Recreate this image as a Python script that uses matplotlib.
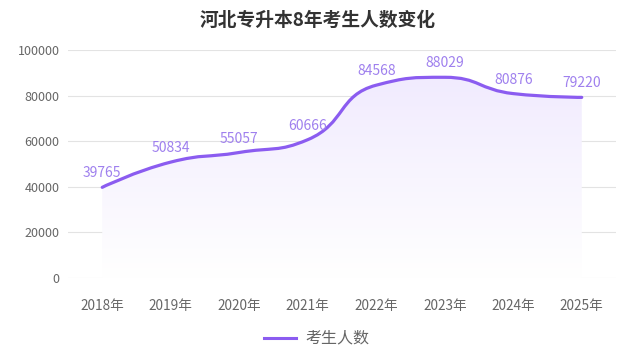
import numpy as np
import matplotlib
matplotlib.use("Agg")
import matplotlib.pyplot as plt
from matplotlib.path import Path
from matplotlib.patches import PathPatch
from matplotlib.lines import Line2D
from matplotlib.colors import LinearSegmentedColormap

plt.rcParams['font.family'] = ['Noto Sans CJK SC', 'DejaVu Sans']

title = "河北专升本8年考生人数变化"
years = ["2018年", "2019年", "2020年", "2021年", "2022年", "2023年", "2024年", "2025年"]
values = [39765, 50834, 55057, 60666, 84568, 88029, 80876, 79220]
series_name = "考生人数"
yticks = [0, 20000, 40000, 60000, 80000, 100000]

line_color = "#8b5cf0"
label_color = "#9f80ee"

fig = plt.figure(figsize=(6.35, 3.63), dpi=100)
ax = fig.add_axes([68 / 635, 1 - 278 / 363, (616 - 68) / 635, (278 - 50) / 363])
n = len(values)
ax.set_xlim(-0.5, n - 0.5)
ax.set_ylim(0, 100000)

# pixel-scale factors for the smoothing (ECharts-like smooth=0.5)
sx = (616 - 68) / n
sy = (278 - 50) / 100000.0
P = [(i * sx, v * sy) for i, v in enumerate(values)]
smooth = 0.5

verts = []
codes = []
cp0 = None
prev = None
for k, (x, y) in enumerate(P):
    if k == 0:
        verts.append((x, y)); codes.append(Path.MOVETO)
        cp0 = (x, y)
    else:
        px, py = prev
        if k == n - 1:
            cp1 = (x, y)
            ncp0 = None
        else:
            nx, ny = P[k + 1]
            vx, vy = nx - px, ny - py
            lp = np.hypot(x - px, y - py)
            ln = np.hypot(nx - x, ny - y)
            r = ln / (ln + lp)
            ncx = x + vx * smooth * r
            ncy = y + vy * smooth * r
            ncx = min(ncx, max(nx, x)); ncy = min(ncy, max(ny, y))
            ncx = max(ncx, min(nx, x)); ncy = max(ncy, min(ny, y))
            vx, vy = ncx - x, ncy - y
            c1x = x - vx * lp / ln
            c1y = y - vy * lp / ln
            c1x = min(c1x, max(px, x)); c1y = min(c1y, max(py, y))
            c1x = max(c1x, min(px, x)); c1y = max(c1y, min(py, y))
            vx, vy = x - c1x, y - c1y
            ncx = x + vx * ln / lp
            ncy = y + vy * ln / lp
            cp1 = (c1x, c1y)
            ncp0 = (ncx, ncy)
        verts += [cp0, cp1, (x, y)]
        codes += [Path.CURVE4] * 3
        cp0 = ncp0
    prev = (x, y)

verts = [(vx_ / sx, vy_ / sy) for vx_, vy_ in verts]
line_path = Path(verts, codes)

# area path
area_verts = verts + [(n - 1, 0), (0, 0), verts[0]]
area_codes = codes + [Path.LINETO, Path.LINETO, Path.CLOSEPOLY]
area_path = Path(area_verts, area_codes)

# gradient fill
top = max(values)
grad = np.linspace(0, 1, 256).reshape(-1, 1)
cmap = LinearSegmentedColormap.from_list("g", ["#ffffff", "#f1ebfe"])
im = ax.imshow(grad, extent=[0, n - 1, 0, top], origin='lower', cmap=cmap,
               aspect='auto', zorder=1, interpolation='bilinear')
patch = PathPatch(area_path, facecolor='none', edgecolor='none')
ax.add_patch(patch)
im.set_clip_path(patch)

ax.add_patch(PathPatch(line_path, facecolor='none', edgecolor=line_color,
                       lw=2.3, capstyle='round', joinstyle='round', zorder=3))

for i, v in enumerate(values):
    ax.annotate(f"{v}", (i, v), xytext=(0, 5), textcoords='offset points',
                ha='center', va='bottom', fontsize=10, color=label_color, zorder=4)

ax.set_yticks(yticks)
ax.set_yticklabels([str(t) for t in yticks], fontsize=9, color="#666666")
ax.set_xticks(range(n))
ax.set_xticklabels(years, fontsize=9.8, color="#666666")
ax.grid(axis='y', color="#e3e3e3", lw=0.8, zorder=0)
ax.tick_params(axis='both', length=0)
ax.tick_params(axis='y', pad=6)
ax.tick_params(axis='x', pad=15)
for s in ax.spines.values():
    s.set_visible(False)
ax.set_axisbelow(True)

fig.text(0.5, 1 - 20 / 363, title, ha='center', va='center', fontsize=13.5,
         fontweight='bold', color="#333333")

fig.add_artist(Line2D([264 / 635, 296 / 635], [1 - 338 / 363, 1 - 338 / 363],
                      color=line_color, lw=2.2))
fig.text(305 / 635, 1 - 338 / 363, series_name, ha='left', va='center',
         fontsize=11.5, color="#666666")

fig.savefig("out.png", dpi=100)
